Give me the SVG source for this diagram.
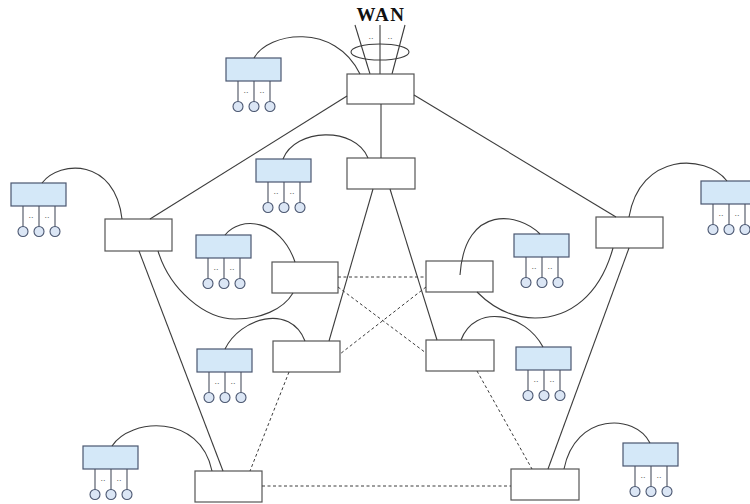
<svg xmlns="http://www.w3.org/2000/svg" xmlns:xlink="http://www.w3.org/1999/xlink" width="750" height="504" viewBox="0 0 750 504">
  <style>
    .box { fill: #ffffff; stroke: #555555; stroke-width: 1.2; }
    .dev { fill: #d4e8f8; stroke: #4a5670; stroke-width: 1.2; }
    .stem { stroke: #4a5060; stroke-width: 1.1; }
    .port { fill: #dbe6f5; stroke: #4a5670; stroke-width: 1.1; }
    .dots { font-family: "Liberation Sans", Arial, sans-serif; font-size: 9px; fill: #666666; text-anchor: middle; }
    .link { fill: none; stroke: #3c3c3c; stroke-width: 1.1; }
    .dash { fill: none; stroke: #3c3c3c; stroke-width: 1; stroke-dasharray: 3 2.5; }
    .wan { font-family: "Liberation Serif", "Times New Roman", serif; font-weight: bold; font-size: 19px; letter-spacing: 1.5px; fill: #111111; }
  </style>
  <defs>
    <!-- host adapter with three attached stations -->
    <g id="station">
      <rect class="dev" x="0" y="0" width="55" height="23"/>
      <line class="stem" x1="12" y1="23" x2="12" y2="43.5"/>
      <line class="stem" x1="28" y1="23" x2="28" y2="43.5"/>
      <line class="stem" x1="44" y1="23" x2="44" y2="43.5"/>
      <circle class="port" cx="12" cy="48.5" r="5"/>
      <circle class="port" cx="28" cy="48.5" r="5"/>
      <circle class="port" cx="44" cy="48.5" r="5"/>
      <text class="dots" x="20" y="35">..</text>
      <text class="dots" x="36" y="35">..</text>
    </g>
  </defs>

  <rect width="750" height="504" fill="#ffffff"/>

  <!-- WAN uplink -->
  <g id="wan">
    <text class="wan" x="381" y="21" text-anchor="middle">WAN</text>
    <line class="link" x1="370" y1="74" x2="355" y2="25"/>
    <line class="link" x1="380" y1="74" x2="380" y2="25"/>
    <line class="link" x1="392" y1="74" x2="405" y2="25"/>
    <ellipse cx="380" cy="52" rx="29" ry="8" fill="none" stroke="#3c3c3c" stroke-width="1.1"/>
    <text class="dots" x="371" y="39">..</text>
    <text class="dots" x="390" y="39">..</text>
  </g>

  <!-- switching nodes -->
  <g id="sw-top"><rect class="box" x="347" y="74" width="67" height="30"/></g>
  <g id="sw-core"><rect class="box" x="347" y="158" width="68" height="31"/></g>
  <g id="sw-left"><rect class="box" x="105" y="219" width="67" height="32"/></g>
  <g id="sw-right"><rect class="box" x="596" y="217" width="67" height="31"/></g>
  <g id="sw-inner-lu"><rect class="box" x="272" y="262" width="66" height="31"/></g>
  <g id="sw-inner-ru"><rect class="box" x="426" y="261" width="67" height="31"/></g>
  <g id="sw-inner-ll"><rect class="box" x="273" y="341" width="67" height="31"/></g>
  <g id="sw-inner-rl"><rect class="box" x="426" y="340" width="68" height="31"/></g>
  <g id="sw-bottom-left"><rect class="box" x="195" y="471" width="67" height="31"/></g>
  <g id="sw-bottom-right"><rect class="box" x="511" y="469" width="68" height="31"/></g>

  <!-- attached station groups -->
  <g id="st-1"><use xlink:href="#station" x="226" y="58"/></g>
  <g id="st-2"><use xlink:href="#station" x="11" y="183"/></g>
  <g id="st-3"><use xlink:href="#station" x="256" y="159"/></g>
  <g id="st-4"><use xlink:href="#station" x="196" y="235"/></g>
  <g id="st-5"><use xlink:href="#station" x="514" y="234"/></g>
  <g id="st-6"><use xlink:href="#station" x="197" y="349"/></g>
  <g id="st-7"><use xlink:href="#station" x="516" y="347"/></g>
  <g id="st-8"><use xlink:href="#station" x="83" y="446"/></g>
  <g id="st-9"><use xlink:href="#station" x="623" y="443"/></g>
  <g id="st-10"><use xlink:href="#station" x="701" y="181"/></g>

  <!-- links -->
  <g id="connectors">
    <!-- trunk lines -->
    <path class="link" d="M381,104 V158"/>
    <path class="link" d="M347,96 L150,219"/>
    <path class="link" d="M414,95 L616,217"/>
    <path class="link" d="M373,189 L329,341"/>
    <path class="link" d="M390,189 L437,340"/>
    <path class="link" d="M139,251 L223,471"/>
    <path class="link" d="M629,248 L548,469"/>
    <path class="link" d="M158,251 C170,290 205,319 235,319 C260,319 283,310 293,293"/>
    <path class="link" d="M477,292 C490,305 510,318 535,318 C570,318 600,295 613,248"/>

    <!-- station drops -->
    <path class="link" d="M254,58 C268,32 335,22 360,74"/>
    <path class="link" d="M42,183 C60,160 115,158 122,219"/>
    <path class="link" d="M283,159 C295,128 355,126 368,158"/>
    <path class="link" d="M225,235 C240,216 280,218 295,262"/>
    <path class="link" d="M540,234 C520,213 465,203 460,275"/>
    <path class="link" d="M225,349 C240,318 290,303 305,341"/>
    <path class="link" d="M543,347 C525,313 475,303 461,340"/>
    <path class="link" d="M112,446 C130,418 200,413 212,471"/>
    <path class="link" d="M650,443 C635,413 575,413 564,469"/>
    <path class="link" d="M727,181 C705,153 640,153 629,217"/>

    <!-- backup paths -->
    <path class="dash" d="M338,277 H426"/>
    <path class="dash" d="M338,287 L426,353"/>
    <path class="dash" d="M426,287 L340,354"/>
    <path class="dash" d="M289,372 L250,471"/>
    <path class="dash" d="M477,371 L532,469"/>
    <path class="dash" d="M262,486 H511"/>
  </g>
</svg>
